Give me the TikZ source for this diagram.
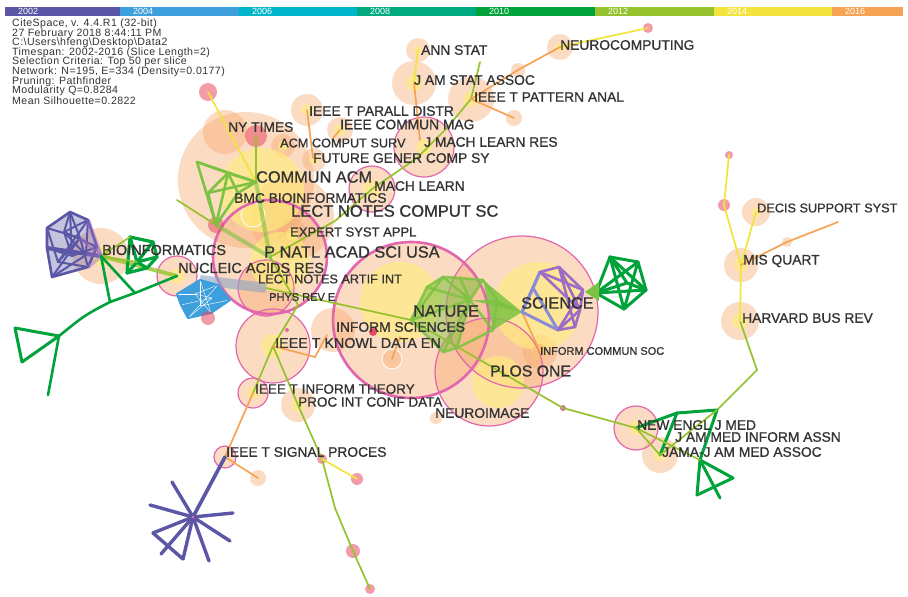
\documentclass[tikz,border=0pt]{standalone}
\usepackage{fontspec}
\setmainfont{Liberation Sans}
\newfontfamily\lblfont[FakeBold=0.9]{Liberation Sans}
\newfontfamily\infofont[LetterSpace=4]{Liberation Sans}
% slice colours of the timeline
\definecolor{c02}{HTML}{5B57A6}
\definecolor{c04}{HTML}{3D9FDB}
\definecolor{c06}{HTML}{00B5C9}
\definecolor{c08}{HTML}{00A97E}
\definecolor{c10}{HTML}{00A23B}
\definecolor{c12}{HTML}{96C22D}
\definecolor{c14}{HTML}{F2E43D}
\definecolor{c16}{HTML}{F6A353}
% node colours
\definecolor{peach}{HTML}{F7AA70}
\definecolor{core}{HTML}{FFF07A}
\definecolor{ring}{HTML}{E266AE}
\definecolor{burst}{HTML}{E84A64}
\definecolor{ink}{HTML}{333333}
\definecolor{lav}{HTML}{9C6CC6}
\definecolor{lavblue}{HTML}{8C8CD6}
\definecolor{lime}{HTML}{7DC242}
\definecolor{band}{HTML}{8AA4C4}
\tikzset{
  halo/.style={fill=peach,fill opacity=0.42},
  corefill/.style={fill=core,fill opacity=0.6},
  ringed/.style={draw=ring,line width=1.2pt},
  burstdot/.style={fill=burst,fill opacity=0.55},
  info/.style={anchor=west,inner sep=0pt,text=ink,font=\infofont\fontsize{10.6}{10}\selectfont},
  yearlbl/.style={anchor=west,inner sep=0pt,text=white,font=\fontsize{9}{9}\selectfont},
  jlabel/.style={anchor=west,inner sep=0pt,text=ink,font=\lblfont\fontsize{13.8}{14}\selectfont},
  jbig/.style={jlabel,font=\lblfont\fontsize{16.3}{16}\selectfont},
  jmid/.style={jlabel,font=\lblfont\fontsize{14.5}{15}\selectfont},
  jsmall/.style={jlabel,font=\lblfont\fontsize{12.7}{13}\selectfont},
  jtiny/.style={jlabel,font=\lblfont\fontsize{11}{11}\selectfont},
  link/.style={line width=1.7pt,line cap=round},
  mesh/.style={line width=2.6pt,line cap=round,line join=round},
}
\begin{document}
\begin{tikzpicture}[x=1pt,y=-1pt]
\useasboundingbox[fill=white] (0,0) rectangle (908,597);

% timeline bar
\foreach \c/\a/\b/\yr in {c02/5/120/2002,c04/120/239/2004,c06/239/357/2006,c08/357/476/2008,
    c10/476/595/2010,c12/595/714/2012,c14/714/832/2014,c16/832/903/2016}{
  \fill[\c] (\a,7) rectangle (\b,16);
  \node[yearlbl] (yr\yr) at (\a+13,11.5) {\yr};
}

% run summary
\node[info] (i1) at (12,24) {CiteSpace, v. 4.4.R1 (32-bit)};
\node[info] (i2) at (12,33.5) {27 February 2018 8:44:11 PM};
\node[info] (i3) at (12,43) {C:\textbackslash Users\textbackslash hfeng\textbackslash Desktop\textbackslash Data2};
\node[info] (i4) at (12,52.5) {Timespan: 2002-2016 (Slice Length=2)};
\node[info] (i5) at (12,62) {Selection Criteria: Top 50 per slice};
\node[info] (i6) at (12,72) {Network: N=195, E=334 (Density=0.0177)};
\node[info] (i7) at (12,81.5) {Pruning: Pathfinder};
\node[info] (i8) at (12,91) {Modularity Q=0.8284};
\node[info] (i9) at (12,101) {Mean Silhouette=0.2822};

% journal positions
\coordinate (neuro) at (560,47);   \coordinate (neurored) at (648,28);
\coordinate (annstat) at (418,50); \coordinate (jasa) at (414,83);
\coordinate (patt) at (471,99);    \coordinate (pattleaf) at (514,118);
\coordinate (pattmid) at (518,70); \coordinate (pattup) at (480,62);
\coordinate (parall) at (307,110); \coordinate (commag) at (340,130);
\coordinate (jmlr) at (424,147);   \coordinate (nytimes) at (256,136);
\coordinate (acm) at (283,146);    \coordinate (future) at (314,160);
\coordinate (commun) at (256,182); \coordinate (machl) at (372,189);
\coordinate (bmc) at (253,215);    \coordinate (lncs) at (292,218);
\coordinate (expert) at (292,234); \coordinate (pnas) at (270,257);
\coordinate (bioinf) at (101,256); \coordinate (nucleic) at (177,276);
\coordinate (lnai) at (266,288);   \coordinate (physr) at (298,305);
\coordinate (nature) at (411,320); \coordinate (science) at (522,312);
\coordinate (plos) at (489,372);   \coordinate (knowl) at (273,346);
\coordinate (infosci) at (333,330);\coordinate (infcomm) at (540,352);
\coordinate (proc) at (298,405);   \coordinate (inftheo) at (253,393);
\coordinate (neuroimg) at (436,418);\coordinate (signal) at (225,457);
\coordinate (signalleaf) at (258,478);
\coordinate (dse) at (756,212);    \coordinate (misq) at (741,265);
\coordinate (hbr) at (740,321);    \coordinate (dseleaf) at (787,242);
\coordinate (dseend) at (838,222); \coordinate (hbrbend) at (757,370);
\coordinate (nejm) at (636,428);   \coordinate (jama) at (660,455);
\coordinate (pinkdot) at (563,408);
% bursting references
\coordinate (rtl) at (208,92);  \coordinate (gA) at (216,225);
\coordinate (gB) at (208,318);  \coordinate (bA) at (322,459);
\coordinate (bB) at (357,479);  \coordinate (bC) at (353,551);
\coordinate (bD) at (370,589);  \coordinate (rA) at (729,155);
\coordinate (rB) at (724,205);

% halos
\foreach \n/\r in {neuro/13,annstat/12,jasa/22,patt/23,pattleaf/8,pattmid/7,parall/16,
    commag/13,jmlr/30,acm/12,future/12,machl/23,lncs/42,expert/15,pnas/57,bioinf/28,
    nucleic/20,lnai/28,nature/78,science/76,plos/54,knowl/37,infosci/22,infcomm/17,
    proc/17,inftheo/15,neuroimg/6,signal/11,signalleaf/8,dse/14,misq/17,hbr/19,
    nejm/22,jama/18}
  \fill[halo] (\n) circle (\r);
\fill[halo] (246,180) circle (68);
\fill[halo] (225,132) circle (22);
\fill[halo] (392,359) circle (10);
\fill[halo] (dseleaf) circle (5);
% yellow cores
\fill[corefill] (262,190) circle (42);
\fill[corefill] (400,302) circle (40);
\fill[corefill] (538,306) circle (44);
\fill[corefill] (498,382) circle (26);
\fill[corefill] (280,262) circle (30);
\foreach \n/\r in {neuro/5,annstat/4,jasa/8,patt/8,parall/6,commag/6,jmlr/8,acm/5,
    future/5,machl/9,expert/6,bioinf/10,nucleic/8,knowl/12,proc/7,inftheo/6,
    dse/5,misq/7,hbr/8,nejm/7,jama/6,infcomm/8}
  \fill[corefill] (\n) circle (\r);
\fill[peach,fill opacity=0.5] (infcomm) circle (8);
\draw[white,line width=0.8pt,fill=core,fill opacity=0.4] (bmc) circle (12);
\draw[white,line width=0.8pt] (392,359) circle (10);

% rings
\draw[ringed,line width=2.6pt] (nature) circle (78);
\draw[ringed,line width=2.6pt] (pnas) circle (57);
\foreach \n/\r in {science/76,plos/54,knowl/37,jmlr/30,machl/23,lnai/28,nucleic/20,
    nejm/22,inftheo/15,signal/11}
  \draw[ringed] (\n) circle (\r);

% bursts
\foreach \n/\r in {rtl/9,nytimes/11,gA/8,bA/5,bB/6,bC/7,bD/5,rA/4,rB/6,neurored/5}
  \fill[burstdot] (\n) circle (\r);
\fill[burst] (373,332) circle (4);
\fill[ring] (pinkdot) circle (3);
\fill[ring] (287,330) circle (2);

% 2012 links
\coordinate (d1) at (335,221); \coordinate (d2) at (417,158); \coordinate (d3) at (447,128);
\coordinate (bC0) at (335,508); \coordinate (cstub) at (177,200);
\draw[link,c12] (pnas) -- (d1) -- (machl) -- (d2) -- (d3) -- (patt) -- (pattup);
\draw[link,c12] (nytimes) -- (commun);
\draw[link,c12] (cstub) -- (gA);
\draw[link,c12] (nature) -- (lnai);
\draw[link,c12] (nature) -- (pinkdot) -- (nejm);
\draw[link,c12] (hbr) -- (hbrbend) -- (717,410);
\draw[link,c12] (physr) -- (knowl) -- (inftheo);
\draw[link,c12] (knowl) -- (proc) -- (bA) -- (bC0) -- (bC) -- (bD);
\draw[link,c12] (pnas) -- (physr);
\draw[c12,line width=4pt,opacity=0.8] (bioinf) -- (nucleic);
\draw[lime,line width=4pt,opacity=0.6] (gA) -- (pnas) -- (commun);

% 2014 links
\draw[link,c14] (rtl) -- (commun);
\draw[link,c14] (annstat) -- (jasa);
\draw[link,c14] (neuro) -- (neurored);
\draw[link,c14] (rA) -- (rB) -- (misq) -- (hbr);
\draw[link,c14] (dse) -- (misq);
\draw[link,c14] (bA) -- (bB);

% 2016 links
\draw[link,c16] (jasa) -- (420,140);
\draw[link,c16] (patt) -- (pattmid) -- (neuro);
\draw[link,c16] (patt) -- (pattleaf);
\draw[link,c16] (parall) -- (313,158);
\draw[link,c16] (commag) -- (333,138);
\draw[link,c16] (misq) -- (dseleaf) -- (dseend);
\draw[link,c16] (inftheo) -- (signal) -- (signalleaf);
\draw[link,c16] (science) -- (infcomm);
\draw[link,c16] (knowl) -- (315,357) -- (327,335);
\draw[link,c16] (392,359) -- (400,337);

% cluster around COMMUN ACM
\coordinate (c1) at (197,162); \coordinate (c2) at (228,173);
\coordinate (c4) at (208,193); \coordinate (c6) at (238,193);
\foreach \a/\b in {c1/commun,c1/c2,c1/gA,c2/commun,c2/c4,c2/gA,c4/gA,c4/commun,
    c2/c6,c6/gA,c6/commun}
  \draw[mesh,lime] (\a) -- (\b);

% cluster left of BIOINFORMATICS
\coordinate (p1) at (47,228); \coordinate (p2) at (70,212); \coordinate (p3) at (88,220);
\coordinate (p4) at (97,247); \coordinate (p5) at (88,267); \coordinate (p6) at (52,277);
\coordinate (p7) at (47,248); \coordinate (q1) at (64,232); \coordinate (q2) at (80,238);
\coordinate (q3) at (72,256); \coordinate (q4) at (58,262); \coordinate (q5) at (86,255);
\fill[c02,opacity=0.35] (p1) -- (p2) -- (p3) -- (p4) -- (p5) -- (p6) -- (p7) -- cycle;
\draw[mesh,c02] (p1) -- (p2) -- (p3) -- (p4) -- (p5) -- (p6) -- (p7) -- cycle;
\foreach \a/\b in {p1/q2,p2/q1,p2/q3,p3/q1,p3/q4,p4/q1,p4/q3,p5/q2,p5/q4,p6/q2,
    p6/q5,p7/q3,q1/q3,q2/q4,q1/q5,p1/q4,p3/q5,p2/q2}
  \draw[mesh,c02,line width=2pt] (\a) -- (\b);
\draw[c02,line width=4pt] (p7) -- (bioinf);
\foreach \a in {p3,p4,p5,q5,q2}
  \draw[lav,line width=4pt,opacity=0.45] (bioinf) -- (\a);

% cluster right of BIOINFORMATICS and its tree
\coordinate (g1) at (130,237); \coordinate (g2) at (153,242); \coordinate (g3) at (157,257);
\coordinate (g4) at (147,268); \coordinate (g5) at (127,273); \coordinate (g6) at (137,262);
\foreach \a/\b in {g1/g2,g2/g3,g3/g4,g4/g5,g5/g1,g1/g6,g2/g6,g6/g5,g6/g4,g3/g6}
  \draw[mesh,c10,line width=3.2pt] (\a) -- (\b);
\draw[link,c12] (bioinf) -- (g1);
\draw[link,c12] (bioinf) -- (g6);
\coordinate (t2) at (110,302); \coordinate (t3) at (135,293); \coordinate (t4) at (59,336);
\coordinate (t5) at (15,328);  \coordinate (t6) at (22,362);  \coordinate (t7) at (48,395);
\draw[mesh,c10] (bioinf) -- (t2) -- (t3) -- cycle;
\draw[mesh,c10] (t3) -- (nucleic);
\draw[mesh,c10] (t2) .. controls (85,315) .. (t4) -- (t7);
\draw[mesh,c10,line width=3pt] (t4) -- (t5) -- (t6) -- cycle;

% cluster under NUCLEIC ACIDS RES
\coordinate (b1) at (177,294); \coordinate (b2) at (200,280); \coordinate (b3) at (218,285);
\coordinate (b4) at (230,300); \coordinate (b5) at (211,313); \coordinate (b6) at (188,318);
\coordinate (b7) at (181,305); \coordinate (r1) at (195,294); \coordinate (r2) at (212,298);
\coordinate (r3) at (200,306);
\draw[band,line width=10pt,opacity=0.6] (b2) -- (lnai);
\fill[c04] (b1) -- (b2) -- (b3) -- (b4) -- (b5) -- (b6) -- (b7) -- cycle;
\foreach \a/\b in {b1/r1,b2/r3,b3/r1,b4/r3,b5/r1,b6/r2,b7/r2,r1/r2,b2/b5,b3/b6}
  \draw[white,line width=0.4pt] (\a) -- (\b);
\draw[mesh,c04,line width=2pt] (b1) -- (b2) -- (b3) -- (b4) -- (b5) -- (b6) -- (b7) -- cycle;
\fill[burstdot] (gB) circle (7);

% NATURE cluster
\coordinate (n1) at (427,287); \coordinate (n2) at (443,277); \coordinate (n3) at (460,278);
\coordinate (n4) at (483,280); \coordinate (n5) at (497,300); \coordinate (n7) at (443,352);
\coordinate (n8) at (457,348); \coordinate (n9) at (493,330); \coordinate (n10) at (470,300);
\fill[lime,opacity=0.55] (nature) -- (n1) -- (n2) -- (n10) -- cycle;
\fill[lime,opacity=0.55] (n2) -- (n3) -- (n4) -- (n10) -- cycle;
\fill[lime,opacity=0.45] (nature) -- (n10) -- (n8) -- (n7) -- cycle;
\foreach \a/\b in {nature/n1,nature/n2,nature/n10,nature/n7,n1/n2,n2/n3,n3/n4,n4/n5,
    n2/n10,n3/n10,n4/n10,n10/n9,n10/n7,n7/n8,n8/n9,n5/n9,n1/n10,n8/n10}
  \draw[mesh,lime,opacity=0.85] (\a) -- (\b);
\fill[lime,opacity=0.85] (n4) -- (n9) -- (science) -- cycle;
\fill[lime,opacity=0.85] (n10) -- (n5) -- (science) -- cycle;

% SCIENCE cluster
\coordinate (l1) at (540,272); \coordinate (l2) at (559,267); \coordinate (l3) at (583,290);
\coordinate (l4) at (580,310); \coordinate (l5) at (575,327); \coordinate (l6) at (558,330);
\coordinate (l7) at (533,288);
\foreach \a/\b in {science/l1,science/l6,science/l7,l7/l1,l7/l6}
  \draw[mesh,lavblue,line width=3pt] (\a) -- (\b);
\foreach \a/\b in {l1/l2,l2/l3,l3/l4,l4/l5,l5/l6,l1/l3,l2/l4,l3/l6,l2/l5,l4/l6,l1/l4}
  \draw[mesh,lav] (\a) -- (\b);
\coordinate (e1) at (610,257); \coordinate (e2) at (638,262); \coordinate (e3) at (646,290);
\coordinate (e4) at (624,309); \coordinate (e5) at (596,293); \coordinate (e6) at (627,283);
\foreach \a/\b in {e1/e2,e2/e3,e3/e4,e4/e5,e5/e1,e1/e3,e1/e4,e2/e4,e2/e5,e3/e5,e6/e1,e6/e3,e6/e5}
  \draw[mesh,c10,line width=3pt] (\a) -- (\b);
\fill[lime] (585,292) -- (599,282) -- (599,301) -- cycle;

% JAMA cluster
\coordinate (j1) at (677,413); \coordinate (j2) at (717,410); \coordinate (j3) at (700,460);
\coordinate (j4) at (733,478); \coordinate (j5) at (697,495); \coordinate (j6) at (720,498);
\foreach \a/\b in {j1/j2,j2/j3,j3/j4,j4/j5,j5/j3,j3/j6,j1/nejm,j1/jama}
  \draw[mesh,c10,line width=3pt] (\a) -- (\b);
\draw[link,c12] (nejm) -- (jama) -- (j2);
\draw[link,c12] (nejm) -- (j3);

% star below IEEE T SIGNAL PROCES
\coordinate (s0) at (193,517);
\draw[mesh,c02,line width=3.6pt] (s0) -- (signal);
\foreach \x/\y in {172/482,150/505,233/513,230/541,209/561,183/559,161/554,153/533}
  \draw[mesh,c02,line width=3.4pt] (s0) -- (\x,\y);
\draw[mesh,c02,line width=3.4pt] (153,533) -- (183,559);
\fill[ring] (s0) circle (1.5);

% labels
\node[jlabel] (lbl-neuro) at (560,45) {NEUROCOMPUTING};
\node[jlabel] (lbl-annstat) at (421,50) {ANN STAT};
\node[jlabel] (lbl-jasa) at (414,80) {J AM STAT ASSOC};
\node[jlabel] (lbl-patt) at (474,97) {IEEE T PATTERN ANAL};
\node[jlabel] (lbl-parall) at (309,111) {IEEE T PARALL DISTR};
\node[jlabel] (lbl-commag) at (340,124.5) {IEEE COMMUN MAG};
\node[jlabel] (lbl-nytimes) at (228,127) {NY TIMES};
\node[jlabel] (lbl-jmlr) at (424,142) {J MACH LEARN RES};
\node[jsmall] (lbl-acm) at (280,143) {ACM COMPUT SURV};
\node[jlabel] (lbl-future) at (313,158) {FUTURE GENER COMP SY};
\node[jbig] (lbl-commun) at (256,177) {COMMUN ACM};
\node[jlabel] (lbl-machl) at (374,186) {MACH LEARN};
\node[jlabel] (lbl-bmc) at (234,198) {BMC BIOINFORMATICS};
\node[jbig,font=\lblfont\fontsize{16.5}{17}\selectfont] (lbl-lncs) at (291,211) {LECT NOTES COMPUT SC};
\node[jsmall,font=\lblfont\fontsize{13}{13}\selectfont] (lbl-expert) at (290,232) {EXPERT SYST APPL};
\node[jbig] (lbl-pnas) at (264,252) {P NATL ACAD SCI USA};
\node[jmid] (lbl-bioinf) at (102,250) {BIOINFORMATICS};
\node[jmid] (lbl-nucleic) at (178,268) {NUCLEIC ACIDS RES};
\node[jsmall] (lbl-lnai) at (258,279) {LECT NOTES ARTIF INT};
\node[jtiny] (lbl-physr) at (269,297) {PHYS REV E};
\node[jbig] (lbl-nature) at (413,311) {NATURE};
\node[jbig] (lbl-science) at (521,303) {SCIENCE};
\node[jlabel] (lbl-infosci) at (336,327) {INFORM SCIENCES};
\node[jmid,font=\lblfont\fontsize{14.3}{15}\selectfont] (lbl-knowl) at (275,343) {IEEE T KNOWL DATA EN};
\node[jtiny] (lbl-infcomm) at (540,351) {INFORM COMMUN SOC};
\node[jbig,font=\lblfont\fontsize{15.8}{16}\selectfont] (lbl-plos) at (490,371) {PLOS ONE};
\node[jlabel,font=\lblfont\fontsize{13.5}{14}\selectfont] (lbl-inftheo) at (255,389) {IEEE T INFORM THEORY};
\node[jlabel,font=\lblfont\fontsize{13.5}{14}\selectfont] (lbl-proc) at (298,402) {PROC INT CONF DATA};
\node[jlabel] (lbl-neuroimg) at (435,413) {NEUROIMAGE};
\node[jlabel] (lbl-signal) at (226,452) {IEEE T SIGNAL PROCES};
\node[jlabel] (lbl-nejm) at (637,425) {NEW ENGL J MED};
\node[jlabel] (lbl-jamia) at (675,437) {J AM MED INFORM ASSN};
\node[jlabel] (lbl-jama) at (662,452) {JAMA-J AM MED ASSOC};
\node[jsmall] (lbl-dse) at (757,208) {DECIS SUPPORT SYST};
\node[jlabel] (lbl-misq) at (743,261) {MIS QUART};
\node[jlabel] (lbl-hbr) at (742,318) {HARVARD BUS REV};
\end{tikzpicture}
\end{document}
